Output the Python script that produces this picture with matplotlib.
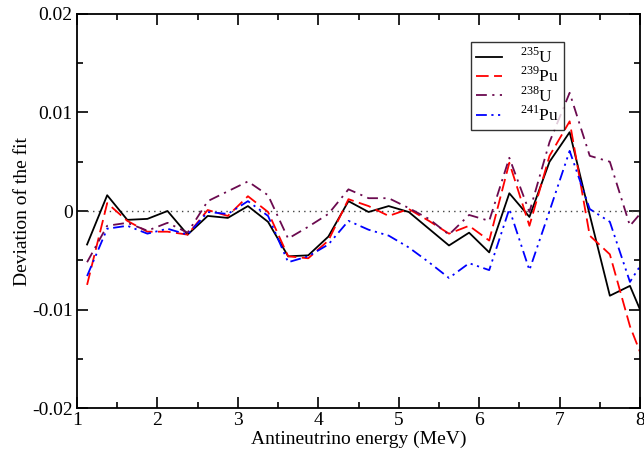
import numpy as np
import matplotlib.pyplot as plt
from matplotlib.ticker import MultipleLocator, FixedLocator

plt.rcParams['font.family'] = ['Liberation Serif', 'DejaVu Serif']
plt.rcParams['mathtext.fontset'] = 'custom'
plt.rcParams['mathtext.rm'] = 'Liberation Serif'

# energies (MeV), bin centres
energia = np.arange(1.125, 8.2, 0.25)

u235 = [-0.0034, 0.0016, -0.0009, -0.0008, 0.0000, -0.0024, -0.0005, -0.0007,
        0.0005, -0.0011, -0.0046, -0.0045, -0.0026, 0.0010, -0.0001, 0.0005,
        -0.0001, -0.0018, -0.0035, -0.0022, -0.0042, 0.0018, -0.0006, 0.0050,
        0.0080, -0.0004, -0.0086, -0.0076, -0.0124]
pu239 = [-0.0075, 0.0008, -0.0010, -0.0021, -0.0021, -0.0024, 0.0001, -0.0005,
         0.0015, -0.0001, -0.0046, -0.0048, -0.0030, 0.0012, 0.0005, -0.0005,
         0.0002, -0.0010, -0.0023, -0.0015, -0.0030, 0.0049, -0.0015, 0.0056,
         0.0091, -0.0025, -0.0044, -0.0117, -0.0169]
u238 = [-0.0052, -0.0015, -0.0012, -0.0020, -0.0012, -0.0022, 0.0010, 0.0020,
        0.0030, 0.0016, -0.0028, -0.0016, -0.0003, 0.0022, 0.0013, 0.0013,
        0.0003, -0.0008, -0.0024, -0.0004, -0.0010, 0.0054, -0.0001, 0.0070,
        0.0120, 0.0056, 0.0050, -0.0015, 0.0009]
pu241 = [-0.0066, -0.0018, -0.0015, -0.0023, -0.0018, -0.0024, -0.0001, -0.0003,
         0.0010, -0.0005, -0.0052, -0.0046, -0.0034, -0.0010, -0.0019, -0.0025,
         -0.0037, -0.0052, -0.0068, -0.0053, -0.0060, 0.0002, -0.0060, 0.0000,
         0.0061, 0.0002, -0.0011, -0.0072, -0.0040]

fig = plt.figure(figsize=(6.44, 4.51), dpi=100)
ax = fig.add_axes([0.1196, 0.0953, 0.8742, 0.8737])

ax.plot([1.125, 8.0], [0, 0], color='#444444', linestyle=(0, (1, 3)), lw=1.0)
ax.plot(energia, u235, color='black', lw=1.3, label=r'$^{235}$U')
ax.plot(energia, pu239, color='#ff0000', lw=1.3, linestyle=(0, (7, 3)),
        label=r'$^{239}$Pu')
ax.plot(energia, u238, color='#6b0a4f', lw=1.3, linestyle=(0, (6, 3, 1.2, 3)),
        label=r'$^{238}$U')
ax.plot(energia, pu241, color='#0000ff', lw=1.3,
        linestyle=(0, (6, 2.5, 1.2, 2.5, 1.2, 2.5)), label=r'$^{241}$Pu')

ax.set_xlim(1, 8)
ax.set_ylim(-0.02, 0.02)
ax.xaxis.set_major_locator(MultipleLocator(1))
ax.xaxis.set_minor_locator(MultipleLocator(0.5))
ax.yaxis.set_major_locator(FixedLocator([-0.02, -0.01, 0, 0.01, 0.02]))
ax.yaxis.set_minor_locator(MultipleLocator(0.005))
ax.set_yticklabels(['-0.02', '-0.01', '0', '0.01', '0.02'])
ax.tick_params(which='both', direction='in', top=True, right=True,
               labelsize=14, width=1.2)
ax.tick_params(which='major', length=8, pad=3)
ax.tick_params(which='minor', length=4)
for s in ax.spines.values():
    s.set_linewidth(1.3)

ax.set_xlabel('Antineutrino energy (MeV)', fontsize=14, labelpad=1)
ax.set_ylabel('Deviation of the fit', fontsize=14, labelpad=1)

leg = ax.legend(loc='upper left', bbox_to_anchor=(0.70, 0.928), fontsize=12.5,
                frameon=True, fancybox=False, edgecolor='black',
                handlelength=1.5, labelspacing=0.0, borderpad=0.3,
                handletextpad=1.0, borderaxespad=0)
leg.get_frame().set_linewidth(1.0)

fig.savefig('out.png', dpi=100)
